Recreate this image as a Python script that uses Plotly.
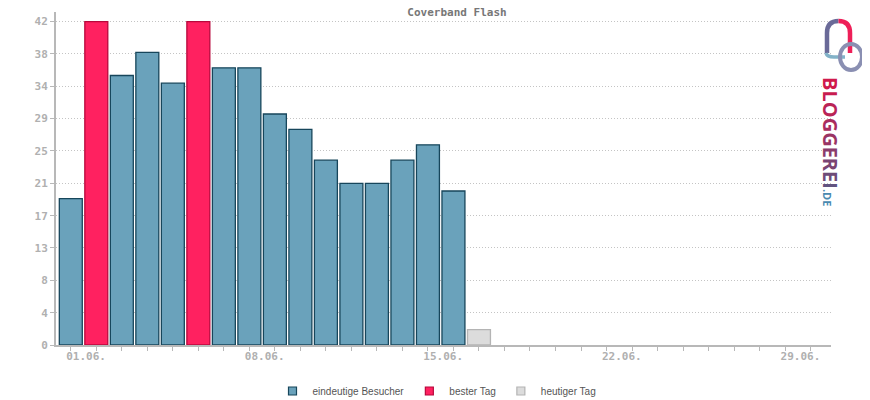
import plotly.graph_objects as go

# ---- data ----
title = "Coverband Flash"
days = list(range(1, 17))
visitors = [19, 42, 35, 38, 34, 42, 36, 36, 30, 28, 24, 21, 21, 24, 26, 20]
today_day = 17
today_value = 2
x_label_days = [1, 8, 15, 22, 29]
x_labels = ["01.06.", "08.06.", "15.06.", "22.06.", "29.06."]
y_max_tick = 42
y_steps = 10
legend_names = ["eindeutige Besucher", "bester Tag", "heutiger Tag"]

# ---- layout geometry (page body has an 8px margin) ----
OFF = 8
W, H = 870 - OFF, 400 - OFF
# plot area in window pixels: x 56..831, y 12..345
L, T = 56 - OFF, 12 - OFF
R = W - (831 - OFF)
B = H - (345 - OFF)
PW, PH = W - L - R, H - T - B

def px(x):
    return (x - OFF - L) / PW

def py(y):
    return (H - B - (y - OFF)) / PH

best = max(visitors)
normal_x = [d for d, v in zip(days, visitors) if v != best]
normal_y = [v for v in visitors if v != best]
best_x = [d for d, v in zip(days, visitors) if v == best]
best_y = [v for v in visitors if v == best]

BLUE, BLUE_L = "#6aa2bb", "#17465b"
RED, RED_L = "#ff2160", "#b8083c"
GREY, GREY_L = "#dcdcdc", "#b4b4b4"

fig = go.Figure()
fig.add_bar(x=normal_x, y=normal_y, width=0.9, showlegend=False,
            marker=dict(color=BLUE, line=dict(color=BLUE_L, width=1.3)))
fig.add_bar(x=best_x, y=best_y, width=0.9, showlegend=False,
            marker=dict(color=RED, line=dict(color=RED_L, width=1.3)))
fig.add_bar(x=[today_day], y=[today_value], width=0.9, showlegend=False,
            marker=dict(color=GREY, line=dict(color=GREY_L, width=1.3)))

for name, c, lc in zip(legend_names, [BLUE, RED, GREY], [BLUE_L, RED_L, GREY_L]):
    fig.add_scatter(x=[None], y=[None], mode="markers", name=name,
                    marker=dict(symbol="square", size=8, color=c,
                                line=dict(color=lc, width=1.2)))

yticks = [y_max_tick * i / y_steps for i in range(y_steps + 1)]
ytext = [str(int(round(v))) for v in yticks]

tickfont = dict(family="DejaVu Sans Mono", size=11, color="#b0b0b0", weight="bold")

fig.update_layout(
    width=W, height=H,
    margin=dict(l=L, r=R, t=T, b=B, autoexpand=False),
    paper_bgcolor="white", plot_bgcolor="white",
    barmode="overlay",
    showlegend=True,
    legend=dict(orientation="h", x=px(437), xanchor="center", y=py(391),
                yanchor="middle", font=dict(family="Liberation Sans", size=10, color="#555555"),
                itemclick=False),
    title=dict(text=title, x=(457 - OFF) / W, xanchor="center", y=1, yanchor="top",
               pad=dict(t=0, b=0),
               font=dict(family="DejaVu Sans Mono", size=11, color="#777777", weight="bold")),
    xaxis=dict(range=[0.42, 30.8], tickvals=[d + 0.6 for d in x_label_days], ticktext=x_labels,
               ticks="", showgrid=False, zeroline=False, showline=True, linecolor="#b8b8b8",
               linewidth=2, tickfont=tickfont, automargin=False,
               minor=dict(tick0=1, dtick=1, ticks="outside", ticklen=4, tickcolor="#b8b8b8",
                          tickwidth=1, showgrid=False)),
    yaxis=dict(range=[0, 43.25], tickvals=yticks, ticktext=ytext, ticks="outside", ticklen=4,
               tickcolor="#b8b8b8", showgrid=True, gridcolor="#c4c4c4", griddash="1px,2px",
               gridwidth=1, zeroline=False, showline=True, linecolor="#b8b8b8", linewidth=2,
               tickfont=tickfont, automargin=False),
)

# ---- logo ----
def P(x, y):
    return f"{px(x):.5f},{py(y):.5f}"

fig.add_shape(type="path", xref="paper", yref="paper",
              path=f"M{P(827,53)} L{P(827,33)} Q{P(827,21)} {P(838.5,21)}",
              line=dict(color="#6a6a98", width=4.5))
fig.add_shape(type="path", xref="paper", yref="paper",
              path=f"M{P(838.5,21)} Q{P(850,21)} {P(850,33)} L{P(850,53)}",
              line=dict(color="#ee1f58", width=4.5))
fig.add_shape(type="path", xref="paper", yref="paper",
              path=f"M{P(826,53)} Q{P(827,57)} {P(834,57)} L{P(845,57)}",
              line=dict(color="#82b2c8", width=3.5))
fig.add_shape(type="circle", xref="paper", yref="paper",
              x0=px(840), x1=px(862), y0=py(70), y1=py(44),
              line=dict(color="#8a8fb2", width=4))

letters = "BLOGGEREI"
lcols = ["#d01a4c", "#c81c50", "#ba2456", "#aa2c5e", "#9a3464", "#8a3c6c", "#7a4472", "#6e4c78", "#625480"]
logo_txt = "".join(f"<span style='color:{c}'>{ch}</span>" for ch, c in zip(letters, lcols))
logo_txt += "<span style='color:#4a8ab0;font-size:11px'>.DE</span>"
fig.add_annotation(xref="paper", yref="paper", x=px(831), y=py(141), xanchor="center",
                   yanchor="middle", text=logo_txt, textangle=90, showarrow=False,
                   font=dict(family="Open Sans", size=20, weight="bold"))

fig.write_html("out.html")
